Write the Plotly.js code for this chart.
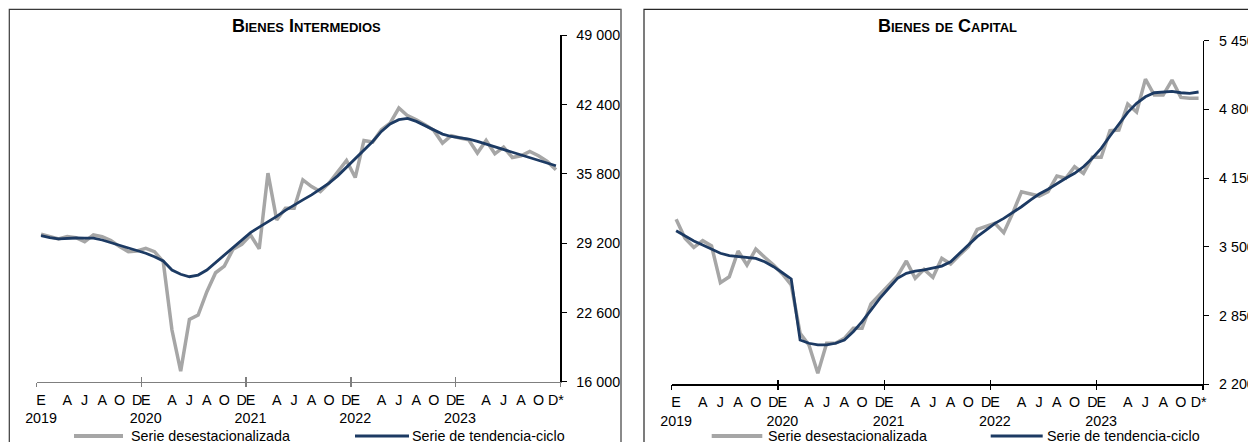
<!DOCTYPE html>
<html><head><meta charset="utf-8">
<script src="https://cdn.plot.ly/plotly-3.0.1.min.js"></script>
<style>html,body{margin:0;padding:0;background:#fff;} #chart{width:1248px;height:442px;}</style>
</head><body><div id="chart"></div>
<script>
// ---- categories: months Jan-2019 .. Dec-2023 (index positions)
const monthIndex = [0,1,2,3,4,5,6,7,8,9,10,11,12,13,14,15,16,17,18,19,20,21,22,23,24,25,26,27,28,29,
  30,31,32,33,34,35,36,37,38,39,40,41,42,43,44,45,46,47,48,49,50,51,52,53,54,55,56,57,58,59];

// ---- Bienes intermedios
const interSA = [30060,29830,29610,29830,29730,29350,29990,29830,29450,28880,28400,28460,
  28720,28400,27440,20930,17010,21950,22360,24580,26390,27030,28630,29100,
  29990,28660,35880,31420,32540,32540,35240,34600,34130,34930,36030,37080,
  35460,38990,38840,40010,40650,42080,41350,40970,40490,39950,38740,39440,
  39220,39060,37790,38990,37720,38360,37370,37530,37940,37530,36990,36200];
const interTC = [29930,29730,29610,29680,29700,29680,29680,29510,29260,28970,28720,28490,
  28250,27920,27510,26650,26240,26010,26170,26650,27350,28080,28820,29510,
  30210,30730,31230,31760,32330,32860,33330,33810,34350,34930,35620,36420,
  37220,38100,38900,39850,40560,40970,41090,40810,40390,40010,39600,39370,
  39220,39130,38900,38650,38360,38100,37850,37630,37370,37080,36840,36580];

// ---- Bienes de capital
const capSA = [3760,3580,3495,3558,3508,3161,3217,3460,3328,3479,3401,3328,
  3243,3139,2682,2572,2304,2588,2588,2635,2729,2729,2959,3044,
  3129,3224,3366,3202,3287,3212,3391,3337,3422,3501,3665,3690,
  3722,3633,3817,4021,4000,3980,4021,4169,4148,4257,4195,4346,
  4346,4598,4604,4850,4774,5086,4935,4935,5077,4913,4904,4904];
const capTC = [3652,3602,3555,3517,3479,3439,3416,3410,3401,3391,3359,3312,
  3255,3196,2619,2588,2572,2572,2588,2619,2697,2792,2902,3013,
  3108,3202,3249,3271,3281,3297,3318,3359,3439,3517,3596,3659,
  3722,3769,3822,3879,3942,3999,4044,4100,4148,4195,4257,4337,
  4431,4548,4661,4772,4857,4919,4957,4966,4969,4957,4951,4964];

// ---- tick labels
const monthTickPos = [0,3,5,7,9,11,12,15,17,19,21,23,24,27,29,31,33,35,36,39,41,43,45,47,48,51,53,55,57,59];
const monthTickText = ['E<br>2019','A','J','A','O','D','E<br>2020','A','J','A','O','D','E<br>2021','A','J','A','O','D',
  'E<br>2022','A','J','A','O','D','E<br>2023','A','J','A','O','D*'];
const yearBounds = [-0.5,11.5,23.5,35.5,47.5,59.5];
const interTicks = [16000,22600,29200,35800,42400,49000];
const capTicks = [2200,2850,3500,4150,4800,5450];
const titles = ['Bienes Intermedios','Bienes de Capital'];
const legendNames = ['Serie desestacionalizada','Serie de tendencia-ciclo'];

const W = 1248, H = 442;
const px = v => v / W, py = v => 1 - v / H;
const GRAY = '#a6a6a6', NAVY = '#1c3a63';
const FONT = {family: 'Arial, Liberation Sans, sans-serif', size: 14.3, color: '#000'};
const TITLEFONT = {family: 'Arial, Liberation Sans, sans-serif', size: 18, weight: 'bold', variant: 'small-caps', color: '#000'};

const traces = [
  {x: monthIndex, y: interSA, xaxis: 'x', yaxis: 'y', mode: 'lines', line: {color: GRAY, width: 3.5}, name: legendNames[0]},
  {x: monthIndex, y: interTC, xaxis: 'x', yaxis: 'y', mode: 'lines', line: {color: NAVY, width: 2.8}, name: legendNames[1]},
  {x: monthIndex, y: capSA, xaxis: 'x2', yaxis: 'y2', mode: 'lines', line: {color: GRAY, width: 3.5}, name: legendNames[0]},
  {x: monthIndex, y: capTC, xaxis: 'x2', yaxis: 'y2', mode: 'lines', line: {color: NAVY, width: 2.8}, name: legendNames[1]},
  // empty helper traces so the overlaid tick-mark axes get drawn
  {x: [], y: [], xaxis: 'x3', yaxis: 'y', mode: 'lines', hoverinfo: 'skip'},
  {x: [], y: [], xaxis: 'x5', yaxis: 'y', mode: 'lines', hoverinfo: 'skip'},
  {x: [], y: [], xaxis: 'x4', yaxis: 'y2', mode: 'lines', hoverinfo: 'skip'},
  {x: [], y: [], xaxis: 'x6', yaxis: 'y2', mode: 'lines', hoverinfo: 'skip'}
];

function labelAxis(domain, anchor, lineColor) {
  return {domain, anchor, range: [-0.5, 59.5], tickmode: 'array', tickvals: monthTickPos, ticktext: monthTickText,
    tickangle: 0, ticks: '', ticklen: 0, showline: true, linecolor: lineColor, linewidth: 1.6, showgrid: false, zeroline: false,
    tickfont: FONT, automargin: false, fixedrange: true, ticklabelstandoff: 4};
}
function tickAxis(over, anchor, side, color) {
  return {overlaying: over, anchor, range: [-0.5, 59.5], tickmode: 'array', tickvals: yearBounds,
    ticktext: yearBounds.map(() => ''), ticks: side, ticklen: 4.5, tickwidth: 1.4, tickcolor: color,
    showline: false, showticklabels: false, showgrid: false, zeroline: false, automargin: false, fixedrange: true};
}
function yAxis(domain, anchor, range, vals) {
  return {domain, anchor, side: 'right', range, tickmode: 'array', tickvals: vals, tickformat: ',d',
    ticks: 'outside', ticklen: 5, tickcolor: '#000', tickwidth: 1, showline: true, linecolor: '#000', linewidth: 1.2,
    showgrid: false, zeroline: false, tickfont: FONT, automargin: false, fixedrange: true, ticklabelstandoff: 7};
}

const legendY = py(436);
const layout = {
  width: W, height: H, margin: {l: 0, r: 0, t: 0, b: 0}, paper_bgcolor: '#fff', plot_bgcolor: '#fff',
  showlegend: false, separators: '. ',
  xaxis: labelAxis([px(36.7), px(560.3)], 'y', '#7f7f7f'),
  xaxis3: tickAxis('x', 'y', 'outside', '#7f7f7f'),
  xaxis5: tickAxis('x', 'y', 'inside', '#7f7f7f'),
  yaxis: yAxis([py(381.8), py(35.4)], 'x', [16000, 49000], interTicks),
  xaxis2: labelAxis([px(671.7), px(1203)], 'y2', '#000'),
  xaxis4: tickAxis('x2', 'y2', 'outside', '#000'),
  xaxis6: tickAxis('x2', 'y2', 'inside', '#000'),
  yaxis2: yAxis([py(384.3), py(40.6)], 'x2', [2200, 5450], capTicks),
  shapes: [
    {type: 'rect', xref: 'paper', yref: 'paper', x0: px(9.3), x1: px(621), y0: py(9.3), y1: -0.05, line: {color: '#3a3a3a', width: 1.2}},
    {type: 'line', xref: 'paper', yref: 'paper', x0: px(621), x1: px(621), y0: py(9.3), y1: -0.05, line: {color: '#8c8c8c', width: 1.2}},
    {type: 'rect', xref: 'paper', yref: 'paper', x0: px(644), x1: 1.05, y0: py(9.3), y1: -0.05, line: {color: '#262626', width: 1.2}},
    {type: 'line', xref: 'paper', yref: 'paper', x0: px(74), x1: px(123), y0: legendY, y1: legendY, line: {color: GRAY, width: 4}},
    {type: 'line', xref: 'paper', yref: 'paper', x0: px(355), x1: px(409), y0: legendY, y1: legendY, line: {color: NAVY, width: 3}},
    {type: 'line', xref: 'paper', yref: 'paper', x0: px(711.7), x1: px(762.3), y0: legendY, y1: legendY, line: {color: GRAY, width: 4}},
    {type: 'line', xref: 'paper', yref: 'paper', x0: px(990.7), x1: px(1042.7), y0: legendY, y1: legendY, line: {color: NAVY, width: 3}}
  ],
  annotations: [
    {xref: 'paper', yref: 'paper', x: px(306), y: py(25.7), xanchor: 'center', yanchor: 'middle', showarrow: false,
      text: titles[0], font: TITLEFONT},
    {xref: 'paper', yref: 'paper', x: px(947.5), y: py(25.7), xanchor: 'center', yanchor: 'middle', showarrow: false,
      text: titles[1], font: TITLEFONT},
    {xref: 'paper', yref: 'paper', x: px(129), y: legendY, xanchor: 'left', yanchor: 'middle', showarrow: false, text: legendNames[0], font: FONT},
    {xref: 'paper', yref: 'paper', x: px(410), y: legendY, xanchor: 'left', yanchor: 'middle', showarrow: false, text: legendNames[1], font: FONT},
    {xref: 'paper', yref: 'paper', x: px(766), y: legendY, xanchor: 'left', yanchor: 'middle', showarrow: false, text: legendNames[0], font: FONT},
    {xref: 'paper', yref: 'paper', x: px(1045), y: legendY, xanchor: 'left', yanchor: 'middle', showarrow: false, text: legendNames[1], font: FONT}
  ]
};

Plotly.newPlot('chart', traces, layout, {staticPlot: true, displayModeBar: false});
</script></body></html>
